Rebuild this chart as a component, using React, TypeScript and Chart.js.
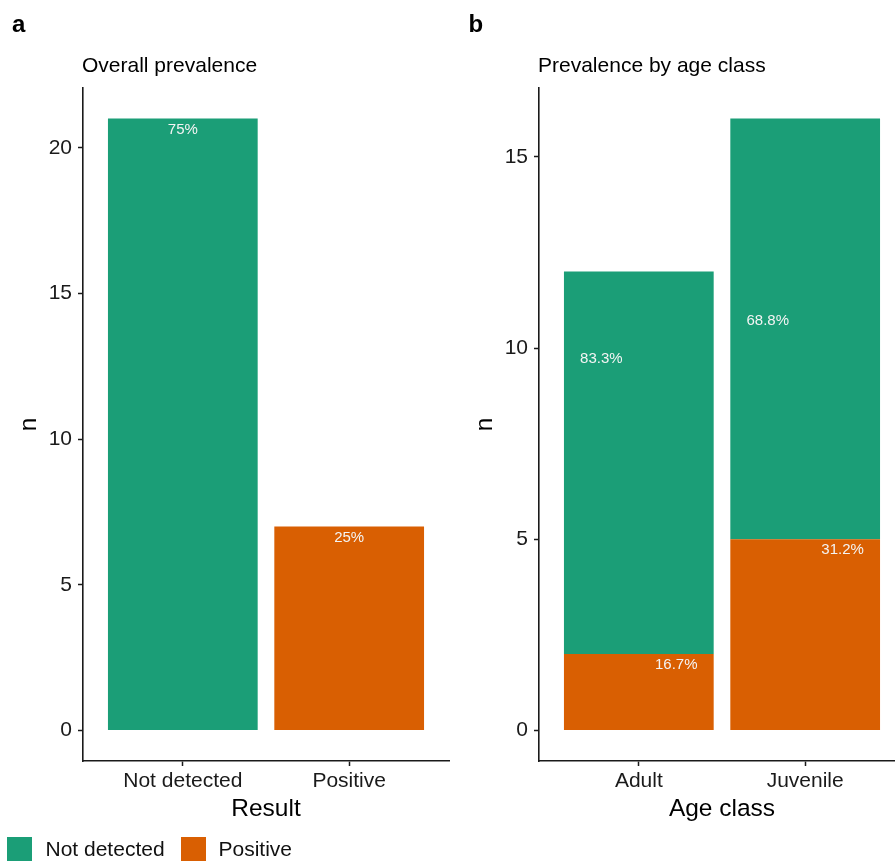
import React, { useEffect, useRef } from "react";
import { Chart, registerables } from "chart.js";

Chart.register(...registerables);

// ---------- data ----------
const resultCategories = ["Not detected", "Positive"];
const overallNotDetected = [21, 0];
const overallPositive = [0, 7];
const overallLabels = ["75%", "25%"];

const ageCategories = ["Adult", "Juvenile"];
const ageNotDetected = [10, 11];
const agePositive = [2, 5];
const ageNotDetectedLabels = ["83.3%", "68.8%"];
const agePositiveLabels = ["16.7%", "31.2%"];

const yTicksA = [0, 5, 10, 15, 20];
const yTicksB = [0, 5, 10, 15];

const GREEN = "#1B9E77";
const ORANGE = "#D95F02";
const FONT = "'Liberation Sans', Arial, Helvetica, sans-serif";
const AXIS = "#1a1a1a";

type Lbl = { text: string; x: number; y: number };

const labelPlugin = (labels: Lbl[]) => ({
  id: "barLabels",
  afterDatasetsDraw(chart: any) {
    const { ctx, scales } = chart;
    ctx.save();
    ctx.fillStyle = "#f4f4f4";
    ctx.font = `15px ${FONT}`;
    ctx.textAlign = "center";
    ctx.textBaseline = "middle";
    labels.forEach((l) => {
      const px = scales.x.getPixelForValue(l.x);
      const py = scales.y.getPixelForValue(l.y);
      ctx.fillText(l.text, px, py + 11);
    });
    ctx.restore();
  },
});

function makeConfig(opts: {
  cats: string[];
  datasets: any[];
  yTicks: number[];
  yMin: number;
  yMax: number;
  xMax: number;
  yWidth: number;
  yTitlePad: number;
  xTitle: string;
  labels: Lbl[];
}): any {
  return {
    type: "bar",
    data: { datasets: opts.datasets },
    options: {
      animation: false,
      responsive: false,
      devicePixelRatio: 1,
      layout: { padding: { top: 88, left: 0, right: 1, bottom: 0 } },
      plugins: { legend: { display: false }, tooltip: { enabled: false } },
      scales: {
        x: {
          type: "linear",
          stacked: true,
          offset: false,
          min: -0.6,
          max: opts.xMax,
          afterBuildTicks: (s: any) => {
            s.ticks = opts.cats.map((_, i) => ({ value: i }));
          },
          afterFit: (s: any) => {
            s.height = 100;
          },
          ticks: {
            font: { size: 21, family: FONT },
            color: AXIS,
            padding: 3,
            maxRotation: 0,
            autoSkip: false,
            callback: (v: any) => opts.cats[v] ?? "",
          },
          grid: {
            offset: false,
            drawOnChartArea: false,
            drawTicks: true,
            tickLength: 5,
            tickColor: AXIS,
            tickWidth: 1.5,
          },
          border: { display: true, color: AXIS, width: 1.6 },
          title: {
            display: true,
            text: opts.xTitle,
            font: { size: 24.5, family: FONT },
            color: "#000",
            padding: { top: 0, bottom: 37 },
          },
        },
        y: {
          stacked: true,
          min: opts.yMin,
          max: opts.yMax,
          afterBuildTicks: (s: any) => {
            s.ticks = opts.yTicks.map((v) => ({ value: v }));
          },
          afterFit: (s: any) => {
            s.width = opts.yWidth;
          },
          ticks: {
            font: { size: 21, family: FONT },
            color: AXIS,
            padding: 6,
          },
          grid: {
            drawOnChartArea: false,
            drawTicks: true,
            tickLength: 5,
            tickColor: AXIS,
            tickWidth: 1.5,
          },
          border: { display: true, color: AXIS, width: 1.6 },
          title: {
            display: true,
            text: "n",
            font: { size: 24.5, family: FONT },
            color: "#000",
            padding: { top: opts.yTitlePad, bottom: 0 },
          },
        },
      },
    },
    plugins: [labelPlugin(opts.labels)],
  };
}

const barStyle = {
  categoryPercentage: 1,
  barPercentage: 0.9,
  borderWidth: 0,
};

export default function App() {
  const refA = useRef<HTMLCanvasElement>(null);
  const refB = useRef<HTMLCanvasElement>(null);

  useEffect(() => {
    const labelsA: Lbl[] = resultCategories.map((_, i) => ({
      text: overallLabels[i],
      x: i,
      y: overallNotDetected[i] + overallPositive[i],
    }));
    const dodge = 0.225;
    const labelsB: Lbl[] = [
      ...ageCategories.map((_, i) => ({ text: ageNotDetectedLabels[i], x: i - dodge, y: ageNotDetected[i] })),
      ...ageCategories.map((_, i) => ({ text: agePositiveLabels[i], x: i + dodge, y: agePositive[i] })),
    ];

    const chartA = new Chart(
      refA.current!,
      makeConfig({
        cats: resultCategories,
        datasets: [
          {
            label: "Not detected",
            data: overallNotDetected.map((v, i) => ({ x: i, y: v })).filter((d) => d.y > 0),
            backgroundColor: GREEN,
            ...barStyle,
          },
          {
            label: "Positive",
            data: overallPositive.map((v, i) => ({ x: i, y: v })).filter((d) => d.y > 0),
            backgroundColor: ORANGE,
            ...barStyle,
          },
        ],
        yTicks: yTicksA,
        yMin: -1.05,
        yMax: 22.05,
        xMax: 1.6,
        yWidth: 83,
        yTitlePad: 14.6,
        xTitle: "Result",
        labels: labelsA,
      })
    );

    const chartB = new Chart(
      refB.current!,
      makeConfig({
        cats: ageCategories,
        datasets: [
          {
            label: "Positive",
            data: agePositive.map((v, i) => ({ x: i, y: v })),
            backgroundColor: ORANGE,
            ...barStyle,
          },
          {
            label: "Not detected",
            data: ageNotDetected.map((v, i) => ({ x: i, y: v })),
            backgroundColor: GREEN,
            ...barStyle,
          },
        ],
        yTicks: yTicksB,
        yMin: -0.8,
        yMax: 16.8,
        xMax: 1.6,
        yWidth: 89,
        yTitlePad: 20.1,
        xTitle: "Age class",
        labels: labelsB,
      })
    );

    return () => {
      chartA.destroy();
      chartB.destroy();
    };
  }, []);

  const text = (s: React.CSSProperties): React.CSSProperties => ({
    position: "absolute",
    fontFamily: FONT,
    lineHeight: 1,
    whiteSpace: "nowrap",
    color: "#000",
    ...s,
  });

  return (
    <div
      style={{
        position: "absolute",
        left: 0,
        top: 0,
        width: 895,
        height: 861,
        overflow: "hidden",
        background: "#fff",
      }}
    >
      <canvas ref={refA} width={450} height={861} style={{ position: "absolute", left: 0, top: 0, width: 450, height: 861 }} />
      <canvas ref={refB} width={456} height={861} style={{ position: "absolute", left: 450, top: 0, width: 456, height: 861 }} />

      <div style={text({ left: 12, top: 11.7, fontSize: 24, fontWeight: "bold" })}>a</div>
      <div style={text({ left: 468.5, top: 11.7, fontSize: 24, fontWeight: "bold" })}>b</div>
      <div style={text({ left: 82, top: 54.2, fontSize: 21 })}>Overall prevalence</div>
      <div style={text({ left: 538, top: 54.2, fontSize: 21 })}>Prevalence by age class</div>

      <div style={{ position: "absolute", left: 7, top: 837, width: 25, height: 25, background: GREEN }} />
      <div style={text({ left: 45.5, top: 838, fontSize: 21, color: "#111" })}>Not detected</div>
      <div style={{ position: "absolute", left: 181, top: 837, width: 25, height: 25, background: ORANGE }} />
      <div style={text({ left: 218.5, top: 838, fontSize: 21, color: "#111" })}>Positive</div>
    </div>
  );
}
